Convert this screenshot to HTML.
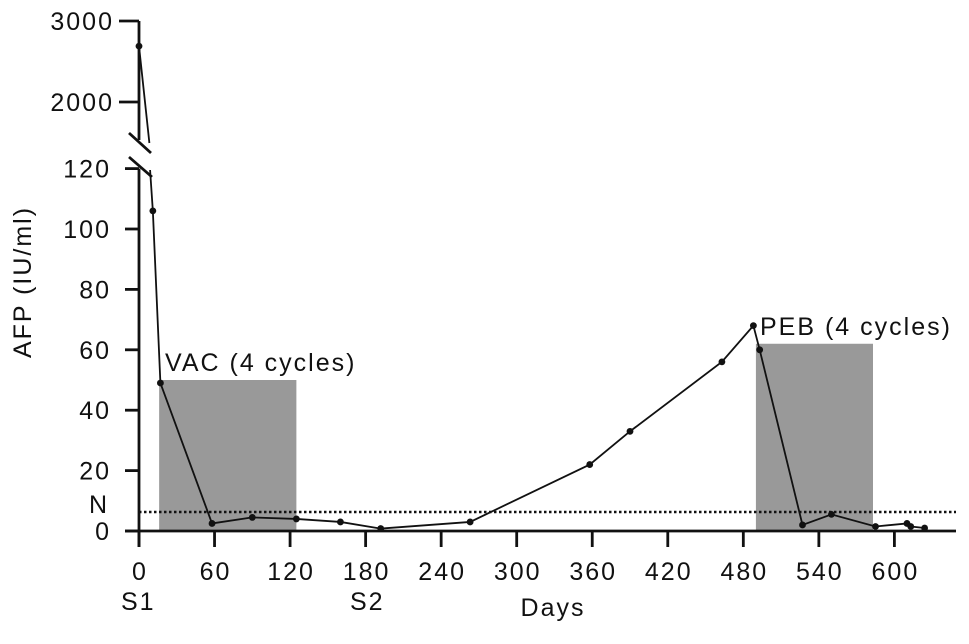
<!DOCTYPE html>
<html><head><meta charset="utf-8"><style>
body{margin:0;background:#fff}
svg text{font-family:"Liberation Sans",Arial,sans-serif;fill:#111;letter-spacing:2px}
</style></head><body>
<svg width="969" height="639" viewBox="0 0 969 639" id="c"></svg>
<script>
const days=[0,11,17,58,90,125,160,192,263,358,390,463,488,493,527,550,585,610,613,624];
const afp=[2690,106,49,2.5,4.5,4,3,0.8,3,22,33,56,68,60,2,5.5,1.5,2.5,1.5,1];
const xTicks=[0,60,120,180,240,300,360,420,480,540,600];
const yTicksLow=[0,20,40,60,80,100,120];
const yTicksHigh=[2000,3000];
const vacRange=[16,125,50];
const pebRange=[490,583,62];
const normalLimit=6.3;

const svg=document.getElementById('c');
const NS='http://www.w3.org/2000/svg';
const X=d=>139+d*1.259;
const YL=v=>531-v*3.02;
const YH=v=>21+(3000-v)*0.081;
const Y=v=>v>150?YH(v):YL(v);
function el(t,a,txt){const e=document.createElementNS(NS,t);for(const k in a)e.setAttribute(k,a[k]);if(txt!==undefined)e.textContent=txt;svg.appendChild(e);return e;}

let r=el('rect',{x:X(vacRange[0]),y:YL(vacRange[2]),width:X(vacRange[1])-X(vacRange[0]),height:YL(0)-YL(vacRange[2]),fill:'#999'});


r=el('rect',{x:X(pebRange[0]),y:YL(pebRange[2]),width:X(pebRange[1])-X(pebRange[0]),height:YL(0)-YL(pebRange[2]),fill:'#999'});



r=el('line',{x1:X(0),x2:956,y1:YL(normalLimit),y2:YL(normalLimit),stroke:'#111','stroke-width':2.5,'stroke-dasharray':'2.5,2.5'});



r=el('path',{d:`M${X(0)-14},${YL(0)}H956`,stroke:'#111','stroke-width':2.8,fill:'none'});


r=el('path',{d:`M${X(0)},${YL(0)+16}V${YL(120)} M${X(0)},${YH(3000)}V140`,stroke:'#111','stroke-width':2.8,fill:'none'});


r=el('path',{d:'M129,133L151,153 M129,157L152,177',stroke:'#111','stroke-width':2.8});



xTicks.forEach(t=>{
 let l=el('line',{x1:X(t),x2:X(t),y1:YL(0),y2:YL(0)+16,stroke:'#111','stroke-width':2.8});
 
 
 let tx=el('text',{x:X(t)+1,y:580,'text-anchor':'middle','font-size':25},t);
 
 
});
yTicksLow.forEach(t=>{
 let l=el('line',{x1:X(0)-14,x2:X(0),y1:YL(t),y2:YL(t),stroke:'#111','stroke-width':2.8});
 
 
 let tx=el('text',{x:111,y:YL(t)+9,'text-anchor':'end','font-size':25},t);
 
 
});
yTicksHigh.forEach(t=>{
 let l=el('line',{x1:X(0)-20,x2:X(0),y1:YH(t),y2:YH(t),stroke:'#111','stroke-width':2.8});
 
 
 let tx=el('text',{x:114,y:YH(t)+9,'text-anchor':'end','font-size':25},t);
 
 
});

let t;
t=el('text',{x:89,y:513,'font-size':25},'N');
t=el('text',{x:121,y:610,'font-size':25},'S1');
t=el('text',{x:350,y:610,'font-size':25},'S2');
t=el('text',{x:553,y:616,'text-anchor':'middle','font-size':25},'Days');
t=el('text',{x:0,y:0,'text-anchor':'middle','font-size':25,transform:'translate(31,282) rotate(-90)'},'AFP (IU/ml)');
t=el('text',{x:165,y:371,'font-size':25},'VAC (4 cycles)');
t=el('text',{x:760,y:335,'font-size':25},'PEB (4 cycles)');

const p0=[X(days[0]),Y(afp[0])],p1=[X(days[1]),Y(afp[1])];
let d=`M${p0[0]},${p0[1]}L${X(days[1]*0.75)},143 M${X(days[1]*0.8)},170L${p1[0]},${p1[1]}`;
for(let i=2;i<days.length;i++)d+=`L${X(days[i])},${Y(afp[i])}`;
r=el('path',{d:d,stroke:'#111','stroke-width':1.8,fill:'none'});


days.forEach((dd,i)=>{
 let c=el('circle',{cx:X(dd),cy:Y(afp[i]),r:3.4,fill:'#111'});
 
 
});
</script>
</body></html>
